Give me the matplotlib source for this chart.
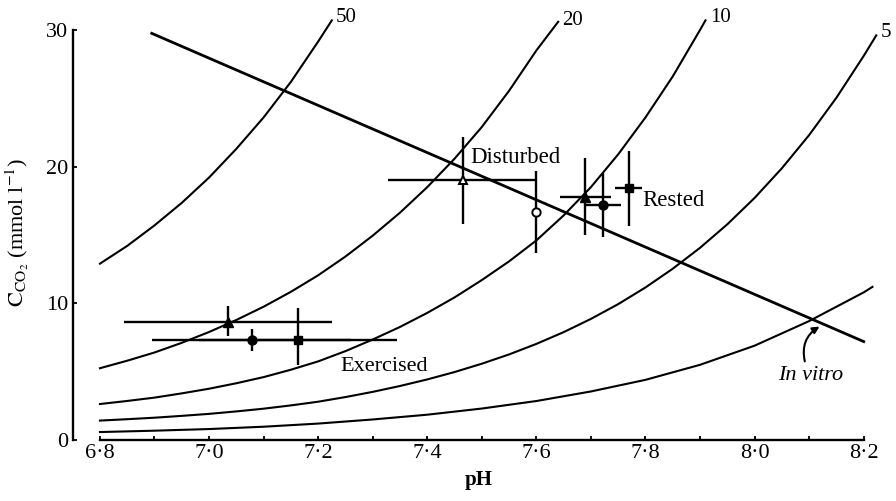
import matplotlib
matplotlib.use('Agg')
import matplotlib.pyplot as plt

plt.rcParams['font.family'] = ['Liberation Serif', 'DejaVu Serif']
plt.rcParams['mathtext.fontset'] = 'stix'

# ---- isopleth curves (CO2 tension labels) ----
curve50_ph = [6.80, 6.85, 6.90, 6.95, 7.00, 7.05, 7.10, 7.15, 7.20, 7.225]
curve50_c = [12.9, 14.2, 15.7, 17.35, 19.2, 21.3, 23.6, 26.2, 29.15, 30.7]

curve20_ph = [6.80, 6.85, 6.90, 6.95, 7.00, 7.05, 7.10, 7.15, 7.20, 7.25, 7.30,
              7.35, 7.40, 7.45, 7.50, 7.55, 7.60, 7.64]
curve20_c = [5.25, 5.80, 6.4, 7.11, 7.9, 8.78, 9.75, 10.84, 12.05, 13.42, 14.95,
             16.63, 18.5, 20.58, 22.9, 25.55, 28.5, 30.6]

curve10_ph = [6.80, 6.85, 6.90, 6.95, 7.00, 7.05, 7.10, 7.15, 7.20, 7.25, 7.30,
              7.35, 7.40, 7.45, 7.50, 7.55, 7.60, 7.65, 7.70, 7.75, 7.80, 7.85,
              7.90, 7.91]
curve10_c = [2.63, 2.855, 3.1, 3.41, 3.75, 4.15, 4.6, 5.14, 5.75, 6.5, 7.35,
             8.27, 9.3, 10.43, 11.7, 13.07, 14.6, 16.43, 18.5, 20.9, 23.6, 26.6,
             30.0, 30.7]

curve5_ph = [6.80, 6.85, 6.90, 6.95, 7.00, 7.05, 7.10, 7.15, 7.20, 7.25, 7.30,
             7.35, 7.40, 7.45, 7.50, 7.55, 7.60, 7.65, 7.70, 7.75, 7.80, 7.85,
             7.90, 7.95, 8.00, 8.05, 8.10, 8.15, 8.20, 8.223]
curve5_c = [1.42, 1.52, 1.63, 1.764, 1.91, 2.09, 2.29, 2.53, 2.80, 3.14, 3.52,
            3.95, 4.43, 4.97, 5.58, 6.26, 7.03, 7.89, 8.86, 9.94, 11.16, 12.53,
            14.06, 15.78, 17.71, 19.88, 22.31, 25.04, 28.1, 29.6]

curve_low_ph = [6.8, 6.9, 7.0, 7.1, 7.2, 7.3, 7.4, 7.5, 7.6, 7.7, 7.8, 7.9,
                8.0, 8.1, 8.2, 8.216]
curve_low_c = [0.58, 0.68, 0.8, 0.97, 1.2, 1.5, 1.85, 2.3, 2.85, 3.55, 4.4, 5.5,
               6.9, 8.7, 10.8, 11.2]

curve_labels = ['50', '20', '10', '5']
curve_label_ph = [7.232, 7.648, 7.918, 8.232]
curve_label_c = [30.9, 30.7, 30.9, 29.8]

# ---- in vitro buffer line ----
invitro_ph = [6.895, 8.200]
invitro_c = [29.75, 7.2]

# ---- data points ----
exercised_ph = [7.035, 7.078, 7.163]
exercised_c = [8.6, 7.3, 7.3]
exercised_ph_err = [0.19, 0.183, 0.181]
exercised_c_err_low = [1.0, 0.8, 1.85]
exercised_c_err_high = [1.2, 0.8, 2.35]

disturbed_ph = [7.465, 7.60]
disturbed_c = [19.0, 16.7]
disturbed_ph_err = [0.137, 0.0]
disturbed_c_err = [3.2, 3.0]

rested_ph = [7.690, 7.723, 7.769]
rested_c = [17.8, 17.2, 18.4]
rested_ph_err = [0.047, 0.033, 0.025]
rested_c_err = [2.8, 2.35, 2.75]

marker_shapes = ['^', 'o', 's']

x_ticks = [6.8, 7.0, 7.2, 7.4, 7.6, 7.8, 8.0, 8.2]
x_tick_labels = ['6·8', '7·0', '7·2', '7·4', '7·6', '7·8', '8·0', '8·2']
x_minor = [6.9, 7.1, 7.3, 7.5, 7.7, 7.9, 8.1]
y_ticks = [0, 10, 20, 30]

# ---- figure ----
fig = plt.figure(figsize=(8.96, 5.01), dpi=100)
ax = fig.add_axes([0.0811, 0.1218, 0.9133, 0.873])
ax.set_xlim(6.75, 8.25)
ax.set_ylim(0, 32)

for ph, c in [(curve50_ph, curve50_c), (curve20_ph, curve20_c),
              (curve10_ph, curve10_c), (curve5_ph, curve5_c),
              (curve_low_ph, curve_low_c)]:
    ax.plot(ph, c, color='black', lw=1.5, clip_on=False)

for lab, x, y in zip(curve_labels, curve_label_ph, curve_label_c):
    ax.text(x, y, lab, ha='left', va='center', fontsize=15)

ax.plot(invitro_ph, invitro_c, color='black', lw=2.0)

# error bars
ax.errorbar(exercised_ph, exercised_c, xerr=exercised_ph_err,
            yerr=[exercised_c_err_low, exercised_c_err_high],
            fmt='none', ecolor='black', elinewidth=1.7, capsize=0, zorder=3)
ax.errorbar(disturbed_ph, disturbed_c, xerr=disturbed_ph_err, yerr=disturbed_c_err,
            fmt='none', ecolor='black', elinewidth=1.7, capsize=0, zorder=3)
ax.errorbar(rested_ph, rested_c, xerr=rested_ph_err, yerr=rested_c_err,
            fmt='none', ecolor='black', elinewidth=1.7, capsize=0, zorder=3)

ms_map = {'^': 6.5, 'o': 6.5, 's': 5.8}
for x, y, m in zip(exercised_ph, exercised_c, marker_shapes):
    ax.plot([x], [y], marker=m, ms=ms_map[m], color='black', ls='none', zorder=5)
for x, y, m in zip(rested_ph, rested_c, marker_shapes):
    ax.plot([x], [y], marker=m, ms=ms_map[m], color='black', ls='none', zorder=5)
for x, y, m in zip(disturbed_ph, disturbed_c, marker_shapes[:2]):
    ax.plot([x], [y], marker=m, ms=6.0, mfc='white', mec='black', mew=1.4,
            ls='none', zorder=5)

# group labels
ax.text(7.478, 20.7, 'Disturbed', ha='left', va='center', fontsize=16.5)
ax.text(7.795, 17.55, 'Rested', ha='left', va='center', fontsize=16.5)
ax.text(7.240, 5.34, 'Exercised', ha='left', va='center', fontsize=16)
ax.text(8.0425, 4.75, 'In vitro', ha='left', va='center', fontsize=16,
        style='italic')
ax.annotate('', xy=(8.119, 8.3), xytext=(8.092, 5.75),
            arrowprops=dict(arrowstyle='-|>', color='black', lw=1.5,
                            connectionstyle='arc3,rad=-0.35',
                            mutation_scale=10, shrinkA=0, shrinkB=0))

# axes styling
for s in ['top', 'right']:
    ax.spines[s].set_visible(False)
ax.spines['left'].set_bounds(0, 30)
ax.spines['bottom'].set_bounds(6.8, 8.2)
ax.spines['left'].set_linewidth(1.7)
ax.spines['bottom'].set_linewidth(1.7)

ax.set_xticks(x_ticks)
ax.set_xticklabels(x_tick_labels)
ax.set_xticks(x_minor, minor=True)
ax.set_yticks(y_ticks)
ax.tick_params(axis='both', which='both', direction='in', length=3, width=1.3,
               labelsize=16)
ax.tick_params(axis='x', pad=3)
ax.tick_params(axis='y', pad=3)

fig.text(479 / 896, 1 - 480 / 501, 'pH', ha='center', va='center',
         fontsize=15, fontweight='bold')
fig.text(17 / 896, 1 - 232 / 501,
         r'$\mathrm{C}_{\mathrm{CO}_2}$ (mmol l$^{-1}$)',
         ha='center', va='center', rotation=90, fontsize=16)

fig.savefig('out.png', dpi=100)
